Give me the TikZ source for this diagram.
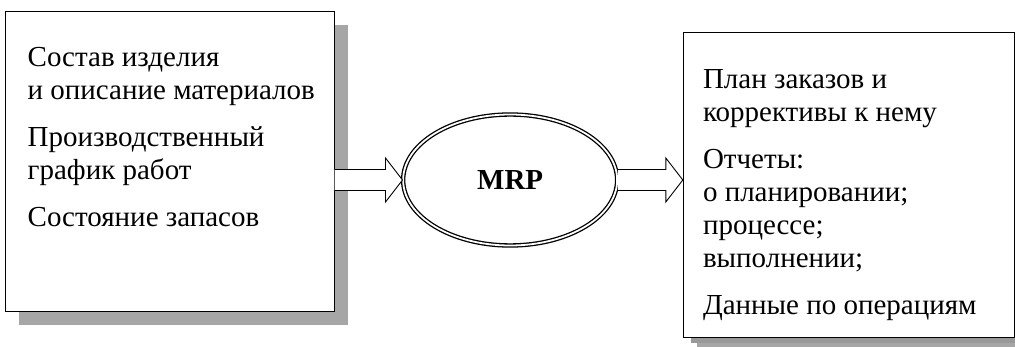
\documentclass[tikz,border=0pt]{standalone}
\usepackage{fontspec}
\setmainfont{Liberation Serif}
\usepackage{tikz}
\usetikzlibrary{positioning,calc,shadows,shapes.geometric}
\tikzset{%
  inputBox/.style={%
    rectangle,
    draw=black,
    line width=1pt,
    fill=white,
    inner sep=0pt,
    minimum width=329pt,
    minimum height=300pt,
    drop shadow={shadow xshift=14pt, shadow yshift=-13pt, fill=black!35, opacity=1}
  },
  outputBox/.style={%
    inputBox,
    minimum width=331pt,
    minimum height=305pt,
    drop shadow={shadow xshift=8pt, shadow yshift=-5pt, fill=black!40, opacity=1}
  },
  boxText/.style={%
    align=left,
    inner sep=0pt,
    font=\fontsize{29}{33}\selectfont
  },
  mrpEllipse/.style={%
    ellipse,
    draw=black,
    line width=1.3pt,
    double,
    double distance=1.8pt,
    minimum width=214pt,
    minimum height=131pt,
    inner sep=0pt,
    font=\fontsize{29}{33}\selectfont\bfseries
  },
  hollowArrow/.style={%
    draw=black,
    line width=0.9pt,
    fill=white,
    to path={let \p1=(\tikztostart), \p2=(\tikztotarget) in
      (\x1,\y1+10.5pt) -- (\x2-17pt,\y2+10.5pt) -- (\x2-17pt,\y2+22pt) -- (\x2,\y2)
      -- (\x2-17pt,\y2-22pt) -- (\x2-17pt,\y2-10.5pt) -- (\x1,\y1-10.5pt)}
  }
}

\begin{document}
\begin{tikzpicture}
  \useasboundingbox (0,0) rectangle (1015pt,-347pt);

  \node[inputBox] (lbox) at (169.5pt,-162pt) {};
  \node[mrpEllipse, right=68pt of lbox, yshift=-18pt] (mrp) {MRP};
  \node[outputBox, right=65pt of mrp, yshift=-5.5pt] (rbox) {};

  \node[boxText, below right=36pt and 23pt of lbox.north west] (ltext)
    {Состав изделия\\и описание материалов\\[14pt]
     Производственный\\график работ\\[14pt]
     Состояние запасов};
  \node[boxText, below right=37pt and 20pt of rbox.north west] (rtext)
    {План заказов и\\коррективы к нему\\[14pt]
     Отчеты:\\о планировании;\\процессе;\\выполнении;\\[14pt]
     Данные по операциям};

  \draw[hollowArrow] (lbox.east |- mrp.west) to (mrp.west);
  \draw[hollowArrow] (mrp.east) to (rbox.west |- mrp.east);
\end{tikzpicture}
\end{document}
